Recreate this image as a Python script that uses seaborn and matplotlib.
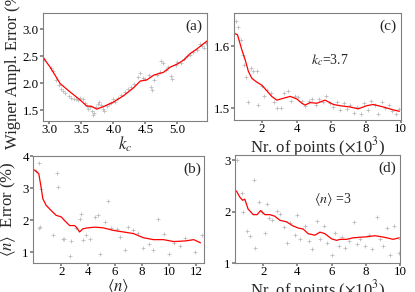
import numpy as np
import pandas as pd
import seaborn as sns
import matplotlib.pyplot as plt

# (a) error vs k_c
a_line_x = [2.90, 3.01, 3.17, 3.32, 3.48, 3.58, 3.66, 3.74, 3.85, 4.00, 4.16, 4.31, 4.42, 4.52,
            4.63, 4.78, 4.89, 4.99, 5.10, 5.20, 5.30, 5.46]
a_line_y = [2.48, 2.30, 1.99, 1.84, 1.69, 1.58, 1.57, 1.52, 1.57, 1.65, 1.77, 1.91, 2.04, 2.06,
            2.15, 2.20, 2.30, 2.35, 2.43, 2.55, 2.63, 2.78]
a_pts_x = [2.92, 3.02, 3.05, 3.10, 3.15, 3.18, 3.22, 3.25, 3.30, 3.33, 3.38, 3.42, 3.45, 3.48,
           3.52, 3.55, 3.58, 3.60, 3.63, 3.66, 3.68, 3.70, 3.73, 3.76, 3.78, 3.80, 3.83, 3.86,
           3.90, 3.93, 3.96, 4.00, 4.03, 4.07, 4.12, 4.18, 4.22, 4.27, 4.32, 4.38, 4.42, 4.46,
           4.50, 4.55, 4.58, 4.60, 4.63, 4.68, 4.72, 4.75, 4.78, 4.82, 4.86, 4.90, 4.92, 4.97,
           5.00, 5.05, 5.10, 5.15, 5.20, 5.25, 5.30, 5.35, 5.38, 5.42, 5.44]
a_pts_y = [2.45, 2.28, 2.22, 2.05, 1.97, 1.90, 1.85, 1.82, 1.76, 1.72, 1.70, 1.70, 1.68, 1.73,
           1.70, 1.63, 1.58, 1.52, 1.55, 1.48, 1.42, 1.44, 1.55, 1.62, 1.66, 1.60, 1.52, 1.48,
           1.58, 1.62, 1.64, 1.70, 1.66, 1.72, 1.78, 1.84, 1.90, 1.93, 1.98, 2.12, 2.18, 2.10,
           2.08, 2.15, 1.93, 1.88, 2.05, 2.15, 2.20, 2.42, 2.38, 2.25, 2.30, 2.13, 2.08, 2.34,
           2.40, 2.38, 2.45, 2.50, 2.52, 2.58, 2.62, 2.72, 2.68, 2.65, 2.75]

# (b) error vs <n>
b_line_x = [0.01, 0.33, 0.50, 0.63, 0.88, 1.25, 1.62, 2.00, 2.24, 2.62, 2.99, 3.16, 3.36, 3.61,
            3.99, 4.49, 5.11, 5.86, 6.61, 7.36, 8.10, 8.85, 9.60, 10.35, 11.22, 11.84, 12.34]
b_line_y = [3.57, 3.45, 3.03, 2.67, 2.46, 2.30, 2.15, 2.10, 1.99, 1.83, 1.83, 1.76, 1.63, 1.73,
            1.76, 1.78, 1.76, 1.68, 1.63, 1.58, 1.45, 1.39, 1.39, 1.33, 1.35, 1.39, 1.29]
b_pts_x = [0.10, 0.37, 0.50, 1.65, 1.78, 0.33, 0.45, 1.37, 2.12, 2.24, 2.62, 2.74, 3.11, 3.36,
           3.49, 3.61, 3.86, 4.16, 4.49, 4.74, 4.86, 5.24, 5.48, 5.73, 6.11, 6.36, 6.73, 6.98,
           7.36, 7.73, 8.10, 8.48, 8.85, 9.22, 9.60, 9.97, 10.35, 10.85, 11.22, 11.97, 12.47]
b_pts_y = [3.55, 3.78, 2.96, 3.48, 3.03, 1.76, 1.80, 1.55, 1.42, 1.42, 0.87, 1.35, 1.76, 2.04,
           2.18, 1.39, 1.54, 1.41, 2.10, 2.16, 0.93, 1.93, 2.60, 1.76, 1.73, 1.47, 1.08, 1.77,
           1.70, 1.59, 1.12, 1.25, 1.06, 2.02, 1.56, 0.94, 1.29, 1.20, 1.44, 0.99, 1.54]

# (c) error vs nr. of points, k_c = 3.7
c_line_x = [0.47, 0.60, 0.85, 1.04, 1.23, 1.43, 1.71, 2.00, 2.29, 2.57, 2.86, 3.24, 3.63, 4.01,
            4.30, 4.49, 4.78, 5.16, 5.64, 6.12, 6.50, 7.07, 7.55, 8.03, 8.41, 8.99, 9.47, 9.91]
c_line_y = [1.620, 1.618, 1.594, 1.578, 1.559, 1.548, 1.542, 1.537, 1.528, 1.519, 1.513, 1.516,
            1.519, 1.515, 1.508, 1.505, 1.509, 1.508, 1.513, 1.506, 1.504, 1.502, 1.499, 1.504,
            1.506, 1.502, 1.498, 1.495]
c_pts_x = [0.50, 0.65, 0.80, 0.90, 1.00, 1.10, 1.20, 1.35, 1.50, 1.70, 1.80, 2.00, 2.10, 2.30,
           2.50, 2.70, 2.90, 3.10, 3.30, 3.50, 3.70, 3.90, 4.10, 4.30, 4.50, 4.70, 4.90, 5.10,
           5.30, 5.50, 5.70, 5.90, 6.10, 6.30, 6.50, 6.70, 6.90, 7.10, 7.30, 7.50, 7.70, 7.90,
           8.10, 8.30, 8.50, 8.70, 8.90, 9.10, 9.30, 9.50, 9.70, 9.90]
c_pts_y = [1.640, 1.630, 1.610, 1.585, 1.570, 1.550, 1.510, 1.565, 1.560, 1.560, 1.505, 1.535,
           1.520, 1.530, 1.525, 1.510, 1.500, 1.500, 1.525, 1.528, 1.512, 1.520, 1.518, 1.512,
           1.503, 1.512, 1.515, 1.505, 1.515, 1.510, 1.520, 1.508, 1.502, 1.510, 1.497, 1.508,
           1.498, 1.505, 1.493, 1.502, 1.490, 1.508, 1.497, 1.512, 1.505, 1.490, 1.510, 1.500,
           1.505, 1.495, 1.490, 1.498]

# (d) error vs nr. of points, <n> = 3
d_line_x = [0.44, 0.64, 0.80, 0.93, 1.12, 1.42, 1.65, 1.85, 2.10, 2.39, 2.68, 2.98, 3.37, 3.75,
            4.05, 4.34, 4.63, 5.02, 5.32, 5.61, 6.00, 6.29, 6.49, 6.88, 7.26, 7.65, 8.05, 8.53,
            8.92, 9.22, 9.60, 9.95]
d_line_y = [2.40, 2.28, 2.22, 2.24, 2.05, 1.94, 1.94, 2.02, 1.94, 1.94, 1.91, 1.83, 1.80, 1.72,
            1.68, 1.66, 1.57, 1.54, 1.60, 1.57, 1.47, 1.44, 1.46, 1.46, 1.49, 1.50, 1.51, 1.53,
            1.51, 1.49, 1.46, 1.49]
d_pts_x = [0.48, 0.74, 0.84, 1.05, 1.24, 1.44, 1.54, 1.73, 1.93, 2.12, 2.21, 2.32, 2.52, 2.81,
           3.00, 3.20, 3.40, 3.59, 3.88, 3.98, 4.17, 4.46, 4.66, 4.85, 5.14, 5.34, 5.53, 5.73,
           6.02, 6.21, 6.41, 6.60, 6.80, 6.99, 7.28, 7.48, 7.67, 7.96, 8.16, 8.35, 8.64, 8.84,
           9.03, 9.23, 9.42, 9.62, 9.91, 9.97]
d_pts_y = [3.00, 2.36, 2.00, 1.62, 1.52, 2.62, 1.29, 2.19, 2.00, 1.58, 2.15, 1.88, 1.83, 2.02,
           1.96, 1.70, 1.39, 1.77, 1.55, 1.94, 1.46, 1.71, 1.43, 1.27, 1.82, 1.46, 1.71, 1.39,
           1.16, 1.58, 1.34, 1.51, 1.30, 1.43, 1.80, 1.36, 1.46, 1.34, 1.55, 1.27, 1.89, 1.46,
           1.33, 1.69, 1.16, 1.72, 1.19, 1.46]

sns.set_theme(style="ticks")
plt.rcParams.update({
    'font.family': ['Liberation Serif', 'DejaVu Serif'],
    'mathtext.fontset': 'stix',
    'font.size': 9.3,
    'axes.edgecolor': '#808080',
    'axes.linewidth': 0.8,
    'axes.labelpad': 0,
    'xtick.color': '#808080',
    'ytick.color': '#808080',
    'xtick.labelcolor': 'black',
    'ytick.labelcolor': 'black',
    'xtick.major.size': 2,
    'ytick.major.size': 2,
    'xtick.major.pad': 0.5,
    'ytick.major.pad': 1,
    'xtick.labelsize': 9.3,
    'ytick.labelsize': 9.3,
})

fig = plt.figure(figsize=(4.15, 2.92), dpi=100)
ax_a = fig.add_axes([0.1036, 0.5856, 0.395, 0.370])
ax_c = fig.add_axes([0.5639, 0.589, 0.402, 0.366])
ax_b = fig.add_axes([0.0795, 0.0993, 0.412, 0.366])
ax_d = fig.add_axes([0.566, 0.0993, 0.398, 0.370])

def panel(ax, px, py, lx, ly):
    sns.scatterplot(x=px, y=py, ax=ax, marker='+', s=6, color='#bdbdbd', linewidth=0.6)
    sns.lineplot(x=lx, y=ly, ax=ax, color='red', linewidth=0.9)

panel(ax_a, a_pts_x, a_pts_y, a_line_x, a_line_y)
ax_a.set_xlim(2.9, 5.46)
ax_a.set_ylim(1.3, 3.3)
ax_a.set_xticks([3.0, 3.5, 4.0, 4.5, 5.0])
ax_a.set_yticks([1.5, 2.0, 2.5, 3.0])
ax_a.set_xlabel('$k_c$', labelpad=-1)
ax_a.set_ylabel('Wigner Ampl. Error (%)', labelpad=1)
ax_a.text(0.92, 0.88, '(a)', transform=ax_a.transAxes, ha='center', va='center', fontsize=11)

panel(ax_c, c_pts_x, c_pts_y, c_line_x, c_line_y)
ax_c.set_xlim(0.4, 10)
ax_c.set_ylim(1.481, 1.653)
ax_c.set_xticks([2, 4, 6, 8, 10])
ax_c.set_yticks([1.5, 1.6])
ax_c.set_xlabel('Nr. of points ($\\times$10$^3$)', labelpad=0)
ax_c.text(0.92, 0.88, '(c)', transform=ax_c.transAxes, ha='center', va='center', fontsize=11)
ax_c.text(0.575, 0.56, '$k_c$=3.7', transform=ax_c.transAxes, ha='center', va='center', fontsize=10)

panel(ax_b, b_pts_x, b_pts_y, b_line_x, b_line_y)
ax_b.set_xlim(-0.1, 12.6)
ax_b.set_ylim(0.66, 4.0)
ax_b.set_xticks([2, 4, 6, 8, 10, 12])
ax_b.set_yticks([1, 2, 3, 4])
ax_b.set_xlabel('$\\langle n\\rangle$', labelpad=-1)
ax_b.set_ylabel('$\\langle n\\rangle$  Error (%)', labelpad=3)
ax_b.text(0.93, 0.88, '(b)', transform=ax_b.transAxes, ha='center', va='center', fontsize=11)

panel(ax_d, d_pts_x, d_pts_y, d_line_x, d_line_y)
ax_d.set_xlim(0.35, 10)
ax_d.set_ylim(1.0, 3.1)
ax_d.set_xticks([2, 4, 6, 8, 10])
ax_d.set_yticks([1, 2, 3])
ax_d.set_xlabel('Nr. of points ($\\times$10$^3$)', labelpad=0)
ax_d.text(0.92, 0.88, '(d)', transform=ax_d.transAxes, ha='center', va='center', fontsize=11)
ax_d.text(0.594, 0.59, '$\\langle n\\rangle$ =3', transform=ax_d.transAxes, ha='center', va='center', fontsize=10)

fig.savefig('out.png', dpi=100)
